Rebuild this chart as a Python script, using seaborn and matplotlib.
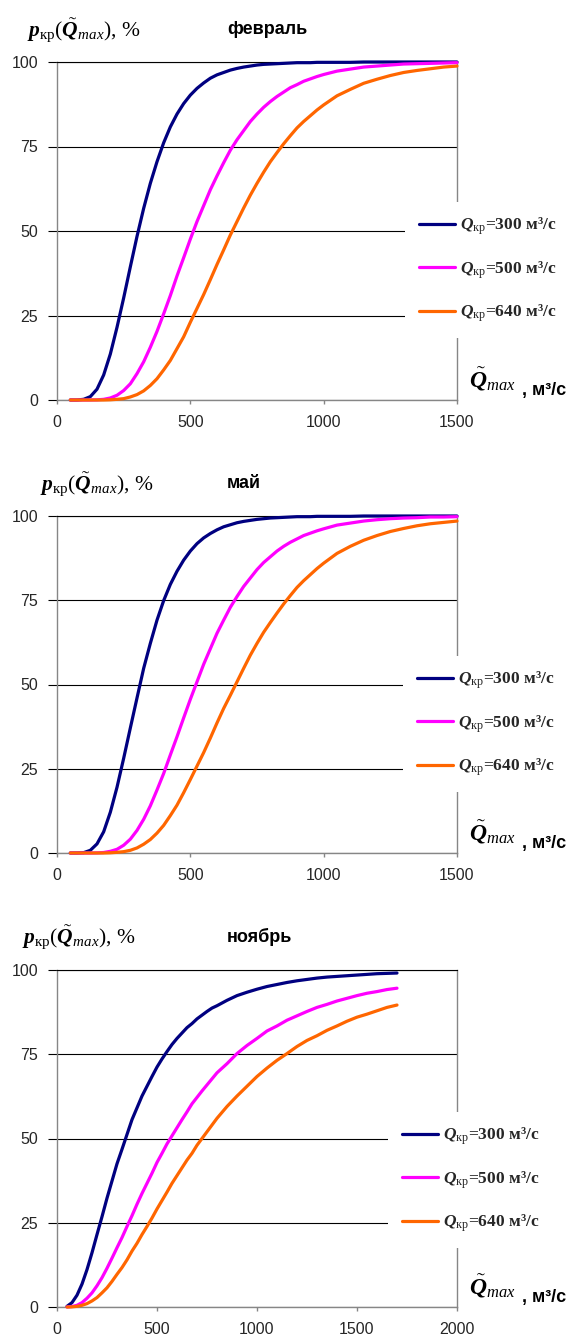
import numpy as np
import pandas as pd
import matplotlib
matplotlib.use("Agg")
import matplotlib.pyplot as plt
import seaborn as sns

# ---------------- data ----------------
months = ["февраль", "май", "ноябрь"]
q_crit = [300, 500, 640]
line_colors = ["#000080", "#FF00FF", "#FF6600"]

# sampling grid of Q~max, m3/s (denser where the curves are steep)
q_feb = np.concatenate([np.arange(50, 1001, 25), np.arange(1050, 1501, 50)])
q_may = np.concatenate([np.arange(50, 1001, 25), np.arange(1050, 1501, 50)])
q_nov = np.concatenate([np.arange(50, 801, 25), np.arange(850, 1701, 50)])

# probability p_kr(Q~max), %
feb_300 = [0.0, 0.01, 0.2, 1.0, 3.2, 7.4, 13.6, 21.5, 30.2, 39.4, 48.4, 56.7, 64.1, 70.5, 76.1,
           80.8, 84.6, 87.7, 90.2, 92.2, 93.8, 95.2, 96.2, 96.9, 97.6, 98.1, 98.5, 98.8, 99.1,
           99.3, 99.4, 99.5, 99.6, 99.7, 99.8, 99.8, 99.8, 99.9, 99.9,
           99.9, 99.9, 100, 100, 100, 100, 100, 100, 100, 100]
feb_500 = [0.0, 0.0, 0.0, 0.01, 0.05, 0.2, 0.6, 1.4, 2.8, 4.8, 7.8, 11.3, 15.6, 20.3, 25.5,
           30.9, 36.7, 42.1, 47.6, 52.8, 57.5, 62.2, 66.3, 70.2, 73.9, 77.0, 79.7, 82.4, 84.6,
           86.6, 88.3, 89.8, 91.1, 92.4, 93.3, 94.3, 95.0, 95.7, 96.3,
           97.3, 97.9, 98.5, 98.8, 99.1, 99.4, 99.5, 99.6, 99.7, 99.8]
feb_640 = [0.0, 0.0, 0.0, 0.0, 0.0, 0.0, 0.06, 0.2, 0.4, 0.9, 1.6, 2.7, 4.3, 6.3, 8.9,
           11.7, 15.2, 18.7, 23.0, 27.1, 31.2, 35.6, 40.1, 44.4, 48.8, 52.8, 56.8, 60.6, 64.1,
           67.4, 70.5, 73.2, 75.8, 78.2, 80.5, 82.4, 84.1, 85.8, 87.3,
           90.0, 91.9, 93.7, 94.9, 96.0, 96.9, 97.5, 98.0, 98.5, 98.8]

may_300 = [0.0, 0.01, 0.1, 0.8, 2.7, 6.3, 12.1, 19.5, 28.1, 37.1, 46.0, 54.8, 62.2, 69.1, 74.9,
           79.7, 83.6, 86.9, 89.6, 91.8, 93.5, 94.8, 95.9, 96.8, 97.4, 98.0, 98.4, 98.7, 99.0,
           99.2, 99.4, 99.5, 99.6, 99.7, 99.8, 99.8, 99.8, 99.9, 99.9,
           99.9, 99.9, 100, 100, 100, 100, 100, 100, 100, 100]
may_500 = [0.0, 0.0, 0.0, 0.0, 0.04, 0.15, 0.5, 1.1, 2.3, 4.1, 6.7, 10.0, 14.0, 18.7, 23.6,
           29.1, 34.5, 40.1, 45.6, 50.8, 56.0, 60.6, 65.2, 69.1, 72.9, 76.1, 79.1, 81.6, 84.1,
           86.2, 87.9, 89.6, 91.0, 92.2, 93.2, 94.2, 94.9, 95.6, 96.2,
           97.3, 97.9, 98.5, 98.9, 99.2, 99.4, 99.5, 99.7, 99.7, 99.8]
may_640 = [0.0, 0.0, 0.0, 0.0, 0.0, 0.0, 0.06, 0.2, 0.4, 0.8, 1.5, 2.6, 4.0, 5.9, 8.2,
           11.1, 14.2, 17.9, 21.8, 25.8, 29.8, 34.1, 38.6, 42.9, 46.8, 50.8, 54.8, 58.7, 62.2,
           65.5, 68.4, 71.2, 73.9, 76.4, 78.8, 80.8, 82.6, 84.4, 86.0,
           88.9, 91.0, 92.8, 94.2, 95.4, 96.3, 97.1, 97.7, 98.1, 98.5]

nov_300 = [0.2, 1.3, 3.5, 6.8, 11.1, 16.1, 21.5, 26.8, 32.3, 37.4, 42.5, 46.8, 51.2, 55.6, 59.1,
           62.6, 65.5, 68.4, 71.2, 73.6, 75.8, 77.9, 79.7, 81.3, 82.9, 84.1, 85.5, 86.6, 87.7,
           88.7, 89.4,
           91.0, 92.4, 93.4, 94.3, 95.1, 95.7, 96.3, 96.8, 97.2, 97.6, 97.9, 98.1, 98.3, 98.5,
           98.7, 98.9, 99.0, 99.1]
nov_500 = [0.02, 0.15, 0.5, 1.3, 2.6, 4.2, 6.3, 8.7, 11.5, 14.5, 17.6, 20.6, 23.9, 27.1, 30.5,
           33.7, 36.7, 39.7, 42.9, 45.6, 48.4, 50.8, 53.2, 55.6, 57.9, 60.3, 62.2, 64.1, 65.9,
           67.7, 69.5,
           72.2, 75.2, 77.6, 79.7, 81.9, 83.4, 85.1, 86.4, 87.7, 88.9, 89.8, 90.8, 91.6, 92.4,
           93.1, 93.6, 94.2, 94.6]
nov_640 = [0.0, 0.04, 0.2, 0.5, 1.0, 1.8, 2.8, 4.2, 5.7, 7.6, 9.7, 11.7, 14.0, 16.6, 18.9,
           21.5, 23.9, 26.4, 29.1, 31.6, 34.1, 36.7, 39.0, 41.3, 43.6, 45.6, 48.0, 50.0, 52.0,
           54.0, 56.0,
           59.5, 62.6, 65.5, 68.4, 70.9, 73.2, 75.2, 77.3, 79.1, 80.5, 82.1, 83.4, 84.8, 86.0,
           86.9, 87.9, 88.9, 89.6]

x_ticks_short = [0, 500, 1000, 1500]
x_ticks_long = [0, 500, 1000, 1500, 2000]
y_ticks = [0, 25, 50, 75, 100]

# ---------------- style ----------------
sns.set_theme(style="white")
plt.rcParams["font.family"] = ["Liberation Sans", "DejaVu Sans"]
plt.rcParams["mathtext.fontset"] = "custom"
plt.rcParams["mathtext.rm"] = "Liberation Serif"
plt.rcParams["mathtext.it"] = "Liberation Serif:italic"
plt.rcParams["mathtext.bf"] = "Liberation Serif:italic:bold"

W, H = 574, 1337
fig = plt.figure(figsize=(W / 100, H / 100), dpi=100)
fig.patch.set_facecolor("white")


def fx(px):
    return px / W


def fy(py):
    return 1 - py / H


panels = [
    dict(q=q_feb, series=[feb_300, feb_500, feb_640], top=62, bottom=400, xmax=1500,
         xticks=x_ticks_short, title_y=30, ylab=(27, 31), leg=(405, 202)),
    dict(q=q_may, series=[may_300, may_500, may_640], top=516, bottom=853, xmax=1500,
         xticks=x_ticks_short, title_y=483, ylab=(40, 485), leg=(403, 656)),
    dict(q=q_nov, series=[nov_300, nov_500, nov_640], top=970, bottom=1307, xmax=2000,
         xticks=x_ticks_long, title_y=937, ylab=(22, 938), leg=(388, 1112)),
]

ylabel = r"$\mathbf{p}_{\mathrm{кр}}(\tilde{\mathbf{Q}}_{max}),\,\mathrm{\%}$"
legend_labels = [r"$\mathbf{Q}_{\mathrm{кр}}$=%d м³/с" % q for q in q_crit]
series_names = [f"Q={q}" for q in q_crit]

left, right = 57, 457
for month, p in zip(months, panels):
    ax = fig.add_axes([fx(left), fy(p["bottom"]), fx(right - left),
                       (p["bottom"] - p["top"]) / H])
    frames = []
    for name, vals in zip(series_names, p["series"]):
        frames.append(pd.DataFrame({"Q": p["q"], "p": vals, "series": name}))
    df = pd.concat(frames, ignore_index=True)
    sns.lineplot(data=df, x="Q", y="p", hue="series",
                 palette=dict(zip(series_names, line_colors)),
                 linewidth=2.3, legend=False, ax=ax, clip_on=False, zorder=3)
    for ln in ax.get_lines():
        ln.set_solid_joinstyle("round")
        ln.set_solid_capstyle("round")

    ax.set_xlim(0, p["xmax"])
    ax.set_ylim(0, 100)
    ax.set_xticks(p["xticks"])
    ax.set_yticks(y_ticks)
    ax.set_xlabel("")
    ax.set_ylabel("")
    ax.grid(axis="y", color="black", linewidth=0.8)
    ax.grid(axis="x", visible=False)
    ax.set_axisbelow(True)
    for side in ("left", "right", "bottom"):
        ax.spines[side].set_color("#868686")
        ax.spines[side].set_linewidth(1.0)
    ax.spines["top"].set_color("black")
    ax.spines["top"].set_linewidth(0.8)
    ax.tick_params(axis="y", direction="out", length=6.5, width=0.8, color="black",
                   pad=7, labelsize=11.5, left=True)
    ax.tick_params(axis="x", direction="out", length=3, width=1.0, color="#868686",
                   pad=8, labelsize=11.5, bottom=True)

    # legend box with white background covering the grid on the right
    handles = ax.get_lines()[:3]
    ax.legend(handles, legend_labels, loc="upper left",
              bbox_to_anchor=(fx(p["leg"][0]), fy(p["leg"][1])),
              bbox_transform=fig.transFigure, borderaxespad=0,
              frameon=True, facecolor="white", edgecolor="none", framealpha=1,
              fancybox=False, borderpad=0.8, handlelength=2.1, handletextpad=0.25,
              labelspacing=1.25,
              prop={"family": "Liberation Serif", "weight": "bold", "size": 12.5})

    # panel title and axis captions
    fig.text(fx(227), fy(p["title_y"]), month, ha="left", va="center",
             fontsize=13, fontweight="bold", color="black")
    fig.text(fx(p["ylab"][0]), fy(p["ylab"][1]), ylabel, ha="left", va="center",
             fontsize=15.5, color="black")
    fig.text(fx(469), fy(p["bottom"] - 12), r"$\tilde{\mathbf{Q}}_{max}$", ha="left",
             va="baseline", fontsize=17, color="black")
    fig.text(fx(522), fy(p["bottom"] - 5), ", м³/с", ha="left", va="baseline",
             fontsize=13, fontweight="bold", color="black")

fig.savefig("out.png", dpi=100, facecolor="white")
